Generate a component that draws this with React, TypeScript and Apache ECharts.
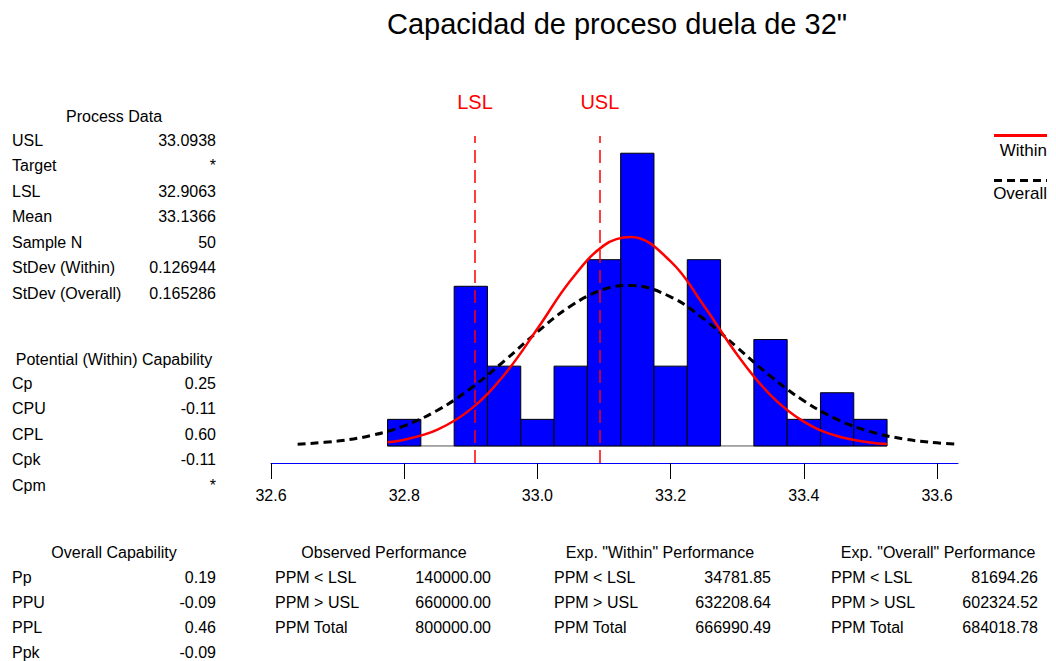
import React, { useEffect, useRef } from "react";
import * as echarts from "echarts";

// ---------- data ----------
const binEdges = [32.775, 32.825, 32.875, 32.925, 32.975, 33.025, 33.075, 33.125, 33.175, 33.225, 33.275, 33.325, 33.375, 33.425, 33.475, 33.525];
const counts = [1, 0, 6, 3, 1, 3, 7, 11, 3, 7, 0, 4, 1, 2, 1];

const withinX = [32.775, 32.8, 32.85, 32.9, 32.95, 33.0, 33.05, 33.1, 33.14, 33.2, 33.25, 33.3, 33.35, 33.4, 33.45, 33.5, 33.525];
const withinY = [0.136, 0.234, 0.614, 1.384, 2.667, 4.403, 6.226, 7.537, 7.85, 6.936, 5.272, 3.431, 1.912, 0.913, 0.373, 0.131, 0.073];

const overallX = [32.64, 32.7, 32.75, 32.8, 32.85, 32.9, 32.95, 33.0, 33.05, 33.1, 33.14, 33.2, 33.25, 33.3, 33.35, 33.4, 33.45, 33.5, 33.55, 33.6, 33.63];
const overallY = [0.066, 0.184, 0.392, 0.758, 1.342, 2.166, 3.19, 4.288, 5.26, 5.888, 6.03, 5.606, 4.768, 3.701, 2.622, 1.695, 1.0, 0.538, 0.264, 0.119, 0.07];

const specNames = ["LSL", "USL"];
const specValues = [32.9063, 33.0938];

const xTicks = [32.6, 32.8, 33.0, 33.2, 33.4, 33.6];

const titleText = 'Capacidad de proceso duela de 32"';

const processHeader = "Process Data";
const processLabels = ["USL", "Target", "LSL", "Mean", "Sample N", "StDev (Within)", "StDev (Overall)"];
const processValues = ["33.0938", "*", "32.9063", "33.1366", "50", "0.126944", "0.165286"];

const potentialHeader = "Potential (Within) Capability";
const potentialLabels = ["Cp", "CPU", "CPL", "Cpk", "Cpm"];
const potentialValues = ["0.25", "-0.11", "0.60", "-0.11", "*"];

const overallCapHeader = "Overall Capability";
const overallCapLabels = ["Pp", "PPU", "PPL", "Ppk"];
const overallCapValues = ["0.19", "-0.09", "0.46", "-0.09"];

const perfLabels = ["PPM < LSL", "PPM > USL", "PPM Total"];
const observedHeader = "Observed Performance";
const observedValues = ["140000.00", "660000.00", "800000.00"];
const expWithinHeader = 'Exp. "Within" Performance';
const expWithinValues = ["34781.85", "632208.64", "666990.49"];
const expOverallHeader = 'Exp. "Overall" Performance';
const expOverallValues = ["81694.26", "602324.52", "684018.78"];

const legendNames = ["Within", "Overall"];

// ---------- layout ----------
const Y_MIN = -0.64;
const Y_MAX = 13;
const SPEC_TOP = 11.65;
const FONT = 'Arial, "Liberation Sans", sans-serif';

function txt(x: number, y: number, text: string, align: string = "left", size = 16, color = "#000") {
  return {
    type: "text",
    x,
    y,
    silent: true,
    style: { text, fill: color, font: `${size}px ${FONT}`, align, verticalAlign: "middle" },
  };
}

function table(
  header: string,
  headerX: number,
  headerY: number,
  labels: string[],
  values: string[],
  labelX: number,
  valueX: number,
  firstY: number,
  step: number
) {
  const els: any[] = [txt(headerX, headerY, header, "center")];
  labels.forEach((l, i) => {
    if (l) els.push(txt(labelX, firstY + i * step, l, "left"));
    if (values[i]) els.push(txt(valueX, firstY + i * step, values[i], "right"));
  });
  return els;
}

export default function App() {
  const ref = useRef<HTMLDivElement>(null);

  useEffect(() => {
    if (!ref.current) return;
    const chart = echarts.init(ref.current, null, { renderer: "svg" });

    const bins = counts.map((c, i) => [binEdges[i], binEdges[i + 1], c]);

    const graphics: any[] = [
      {
        type: "text",
        x: 617,
        y: 24,
        silent: true,
        style: { text: titleText, fill: "#000", font: `29px ${FONT}`, align: "center", verticalAlign: "middle" },
      },
      ...table(processHeader, 114, 116, processLabels, processValues, 12, 216, 140, 25.5),
      ...table(potentialHeader, 114, 359, potentialLabels, potentialValues, 12, 216, 383, 25.5),
      ...table(overallCapHeader, 114, 552, overallCapLabels, overallCapValues, 12, 216, 577, 25.3),
      ...table(observedHeader, 384, 552, perfLabels, observedValues, 275, 491, 577, 25.3),
      ...table(expWithinHeader, 660, 552, perfLabels, expWithinValues, 554, 771, 577, 25.3),
      ...table(expOverallHeader, 938, 552, perfLabels, expOverallValues, 831, 1038, 577, 25.3),
      // legend
      { type: "line", silent: true, shape: { x1: 994, y1: 135.5, x2: 1047, y2: 135.5 }, style: { stroke: "#ff0000", lineWidth: 3 } },
      txt(1047, 150, legendNames[0], "right", 17),
      { type: "line", silent: true, shape: { x1: 994, y1: 180.5, x2: 1047, y2: 180.5 }, style: { stroke: "#000", lineWidth: 3, lineDash: [8, 5] } },
      txt(1047, 193, legendNames[1], "right", 17),
    ];

    chart.setOption({
      animation: false,
      backgroundColor: "#ffffff",
      grid: { left: 271, right: 98, top: 100, bottom: 198, containLabel: false },
      xAxis: {
        type: "value",
        min: 32.6,
        max: 33.6315,
        splitLine: { show: false },
        axisLine: { show: true, onZero: false, lineStyle: { color: "#0000ff", width: 1 } },
        axisTick: { show: true, length: 16, lineStyle: { color: "#000", width: 1 }, customValues: xTicks },
        axisLabel: {
          customValues: xTicks,
          formatter: (v: number) => v.toFixed(1),
          fontSize: 16,
          fontFamily: FONT,
          color: "#000",
          margin: 24,
        },
      },
      yAxis: { type: "value", min: Y_MIN, max: Y_MAX, show: false },
      series: [
        {
          type: "line",
          z: 1,
          silent: true,
          symbol: "none",
          data: [
            [binEdges[0], 0],
            [binEdges[binEdges.length - 1], 0],
          ],
          lineStyle: { color: "#555", width: 1 },
          markLine: {
            silent: true,
            symbol: ["none", "none"],
            lineStyle: { color: "#ff0000", type: [13, 7], width: 1.5 },
            label: {
              show: true,
              position: "end",
              formatter: "{b}",
              color: "#ff0000",
              fontSize: 20,
              fontFamily: FONT,
              distance: 24,
            },
            data: specValues.map((v, i) => [
              { name: specNames[i], coord: [v, Y_MIN] },
              { coord: [v, SPEC_TOP] },
            ]),
          },
        },
        {
          type: "custom",
          z: 2,
          silent: true,
          data: bins,
          encode: { x: [0, 1], y: 2 },
          renderItem: (params: any, api: any) => {
            const lo = api.value(0);
            const hi = api.value(1);
            const c = api.value(2);
            if (!c) return null;
            const p0 = api.coord([lo, 0]);
            const p1 = api.coord([hi, c]);
            return {
              type: "rect",
              shape: { x: p0[0], y: p1[1], width: p1[0] - p0[0], height: p0[1] - p1[1] },
              style: { fill: "#0000ff", stroke: "#000", lineWidth: 1 },
            };
          },
        },
        {
          type: "line",
          name: legendNames[1],
          z: 3,
          silent: true,
          smooth: 0.4,
          showSymbol: false,
          symbol: "none",
          data: overallX.map((x, i) => [x, overallY[i]]),
          lineStyle: { color: "#000", width: 3, type: [8, 5] },
        },
        {
          type: "line",
          name: legendNames[0],
          z: 4,
          silent: true,
          smooth: 0.4,
          showSymbol: false,
          symbol: "none",
          data: withinX.map((x, i) => [x, withinY[i]]),
          lineStyle: { color: "#ff0000", width: 2.5 },
        },
      ],
      graphic: graphics,
    });

    return () => chart.dispose();
  }, []);

  return (
    <div
      ref={ref}
      style={{ position: "absolute", left: 0, top: 0, width: 1056, height: 661, background: "#fff" }}
    />
  );
}
